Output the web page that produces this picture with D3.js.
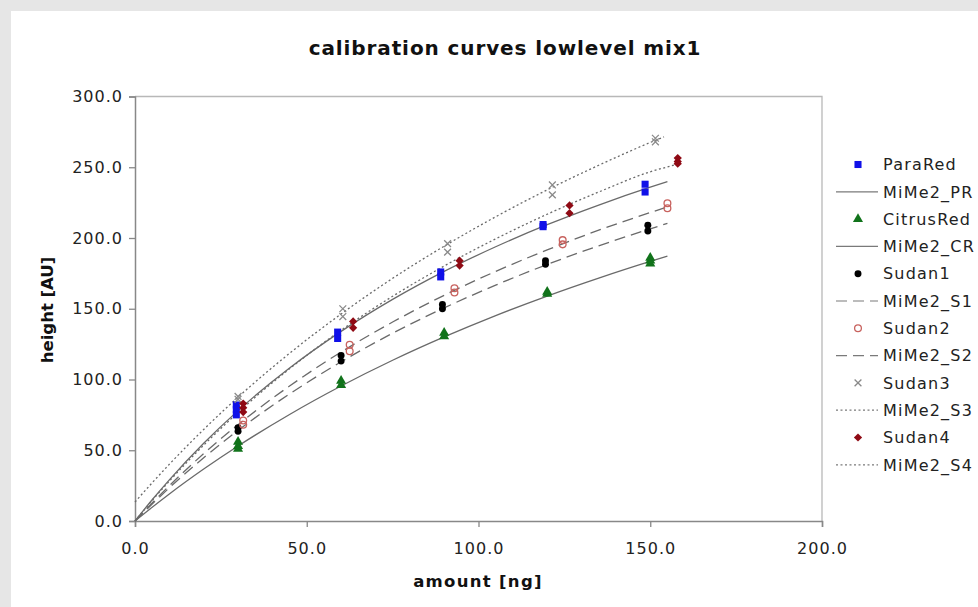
<!DOCTYPE html>
<html>
<head>
<meta charset="utf-8">
<script src="https://cdn.jsdelivr.net/npm/d3@7"></script>
<style>
  body { margin: 0; background: #e6e6e6; }
  svg { display: block; font-family: "DejaVu Sans", Verdana, sans-serif; }
</style>
</head>
<body>
<svg id="chart"></svg>
<script>
// measured points, amount [ng] vs height [AU]
const paraRedX = [29.5, 29.5, 29.5, 59, 59, 89, 89, 118.8, 118.8, 148.5, 148.5];
const paraRedY = [82, 79, 75, 133.5, 129, 176, 172.5, 209.5, 208, 238, 232.5];
const citrusRedX = [30, 30, 30, 60, 60, 90, 90, 120, 120, 150, 150, 150];
const citrusRedY = [56, 53, 51, 99, 96, 133, 130.5, 162, 160.5, 186, 184, 182];
const sudan1X = [30, 30, 60, 60, 89.5, 89.5, 119.5, 119.5, 149.3, 149.3];
const sudan1Y = [66, 63.5, 117, 113, 153, 150, 184, 181.5, 209, 205];
const sudan2X = [31.5, 31.5, 62.5, 62.5, 93, 93, 124.5, 124.5, 155, 155];
const sudan2Y = [71, 68, 124.5, 120, 164.5, 161.5, 198.5, 195.5, 224.5, 221];
const sudan3X = [30, 30, 60.5, 60.5, 91, 91, 121.5, 121.5, 151.5, 151.5];
const sudan3Y = [88, 86, 150, 144.5, 196, 190, 237.5, 230.5, 270.5, 268];
const sudan4X = [31.5, 31.5, 31.5, 63.5, 63.5, 94.5, 94.5, 126.5, 126.5, 158, 158, 158];
const sudan4Y = [83, 80, 77, 141, 136.5, 184, 180.5, 223, 217.5, 256.5, 254, 252.5];

// fitted curves
const fitX = [0, 5, 10, 20, 30, 45, 60, 75, 90, 105, 120, 135, 150, 155];
const fitPR = [0, 15, 29.1, 54.9, 78, 108.1, 134, 156.6, 176.4, 193.8, 209.4, 223.3, 235.9, 239.8];
const fitCR = [0, 9.7, 19.1, 36.7, 53, 75.3, 95.4, 113.6, 130.1, 145.2, 159, 171.7, 183.5, 187.2];
const fitS1 = [0, 12, 23.5, 44.7, 64, 89.8, 112.5, 132.7, 150.6, 166.7, 181.3, 194.5, 206.5, 210.3];
const fitS2 = [0, 12.8, 25, 47.6, 68.1, 95.4, 119.4, 140.6, 159.5, 176.4, 191.6, 205.5, 218, 222];
const fitS3X = [0, 5, 10, 20, 30, 45, 60, 75, 90, 105, 120, 135, 150, 154];
const fitS3 = [13.4, 27, 40.1, 64.7, 87.5, 118.5, 146.3, 171.5, 194.2, 215, 234, 251.4, 267.5, 271.5];
const fitS4X = [0, 5, 10, 20, 30, 45, 60, 75, 90, 105, 120, 135, 150, 157];
const fitS4 = [0, 14.5, 28.2, 53.6, 76.7, 107.6, 134.8, 158.8, 180.2, 199.4, 216.8, 232.5, 246.8, 251.5];

const xTicks = [0, 50, 100, 150, 200];
const yTicks = [0, 50, 100, 150, 200, 250, 300];

const W = 978, H = 607;
const svg = d3.select('#chart').attr('width', W).attr('height', H);

svg.append('rect').attr('x', 11).attr('y', 11).attr('width', W).attr('height', H)
  .attr('fill', '#fff');

const x = d3.scaleLinear().domain([0, 200]).range([135, 822]);
const y = d3.scaleLinear().domain([0, 300]).range([521, 96.5]);

// plot frame: light top/right, darker axes
svg.append('path')
  .attr('d', `M${x(0)},${y(300)}H${x(200)}V${y(0)}`)
  .attr('fill', 'none').attr('stroke', '#b8b8b8').attr('stroke-width', 1.3);

const xAxis = svg.append('g').attr('transform', `translate(0,${y(0)})`)
  .call(d3.axisBottom(x).tickValues(xTicks).tickFormat(d3.format('.1f'))
    .tickSize(6).tickPadding(16));
const yAxis = svg.append('g').attr('transform', `translate(${x(0)},0)`)
  .call(d3.axisLeft(y).tickValues(yTicks).tickFormat(d3.format('.1f'))
    .tickSize(6).tickPadding(6));

[xAxis, yAxis].forEach(g => {
  g.select('.domain').attr('stroke', '#888').attr('stroke-width', 1.5);
  g.selectAll('.tick line').attr('stroke', '#888').attr('stroke-width', 1.3);
  g.selectAll('.tick text').attr('fill', '#222').style('font-size', '16px')
    .style('letter-spacing', '1px').style('font-family', '"DejaVu Sans", Verdana, sans-serif');
});

// titles
svg.append('text').attr('x', 505).attr('y', 55).attr('text-anchor', 'middle')
  .style('font-size', '20px').style('font-weight', 'bold').style('letter-spacing', '0.9px')
  .attr('fill', '#111').text('calibration curves lowlevel mix1');
svg.append('text').attr('x', 478).attr('y', 587).attr('text-anchor', 'middle')
  .style('font-size', '16.5px').style('font-weight', 'bold').style('letter-spacing', '1.3px')
  .attr('fill', '#111').text('amount [ng]');
svg.append('text').attr('transform', 'translate(53,310) rotate(-90)').attr('text-anchor', 'middle')
  .style('font-size', '16.5px').style('font-weight', 'bold')
  .attr('fill', '#111').text('height [AU]');

// series definitions
const timesType = d3.symbolTimes || d3.symbolX || d3.symbolCross;
const scatter = [
  { name: 'ParaRed', xs: paraRedX, ys: paraRedY, type: d3.symbolSquare, size: 50, fill: '#1010e8', stroke: 'none', rot: 0 },
  { name: 'CitrusRed', xs: citrusRedX, ys: citrusRedY, type: d3.symbolTriangle, size: 44, fill: '#11731b', stroke: 'none', rot: 0 },
  { name: 'Sudan1', xs: sudan1X, ys: sudan1Y, type: d3.symbolCircle, size: 38, fill: '#000', stroke: 'none', rot: 0 },
  { name: 'Sudan2', xs: sudan2X, ys: sudan2Y, type: d3.symbolCircle, size: 36, fill: 'none', stroke: '#c8625e', rot: 0 },
  { name: 'Sudan3', xs: sudan3X, ys: sudan3Y, type: timesType, size: 32, fill: 'none', stroke: '#8a8a8a', rot: 0 },
  { name: 'Sudan4', xs: sudan4X, ys: sudan4Y, type: d3.symbolSquare, size: 34, fill: '#8f0a14', stroke: 'none', rot: 45 }
];
const fits = [
  { name: 'MiMe2_PR', xs: fitX, ys: fitPR, dash: null },
  { name: 'MiMe2_CR', xs: fitX, ys: fitCR, dash: null },
  { name: 'MiMe2_S1', xs: fitX, ys: fitS1, dash: '11,6' },
  { name: 'MiMe2_S2', xs: fitX, ys: fitS2, dash: '11,6' },
  { name: 'MiMe2_S3', xs: fitS3X, ys: fitS3, dash: '2,2.5' },
  { name: 'MiMe2_S4', xs: fitS4X, ys: fitS4, dash: '2,2.5' }
];

const line = d3.line().x(d => x(d[0])).y(d => y(d[1])).curve(d3.curveMonotoneX);

const plot = svg.append('g');
fits.forEach(f => {
  plot.append('path')
    .datum(d3.zip(f.xs, f.ys))
    .attr('d', line)
    .attr('fill', 'none')
    .attr('stroke', '#6a6a6a')
    .attr('stroke-width', 1.3)
    .attr('stroke-dasharray', f.dash);
});

function drawMarker(g, s, cx, cy) {
  g.append('path')
    .attr('d', d3.symbol().type(s.type).size(s.size)())
    .attr('transform', `translate(${cx},${cy}) rotate(${s.rot})`)
    .attr('fill', s.fill)
    .attr('stroke', s.stroke)
    .attr('stroke-width', 1.3);
}

scatter.forEach(s => {
  d3.zip(s.xs, s.ys).forEach(p => drawMarker(plot, s, x(p[0]), y(p[1])));
});

// legend
const legend = svg.append('g');
const legendItems = [];
scatter.forEach((s, i) => { legendItems.push({ kind: 'marker', s: s }); legendItems.push({ kind: 'line', f: fits[i] }); });
legendItems.forEach((it, i) => {
  const ly = 164.5 + i * 27.3;
  if (it.kind === 'marker') {
    drawMarker(legend, it.s, 858, ly);
  } else {
    legend.append('line').attr('x1', 836).attr('x2', 878).attr('y1', ly).attr('y2', ly)
      .attr('stroke', '#7a7a7a').attr('stroke-width', 1.2).attr('stroke-dasharray', it.f.dash);
  }
  legend.append('text').attr('x', 883).attr('y', ly).attr('dy', '0.36em')
    .style('font-size', '16px').style('letter-spacing', '1.2px').attr('fill', '#222')
    .text(it.kind === 'marker' ? it.s.name : it.f.name);
});
</script>
</body>
</html>
